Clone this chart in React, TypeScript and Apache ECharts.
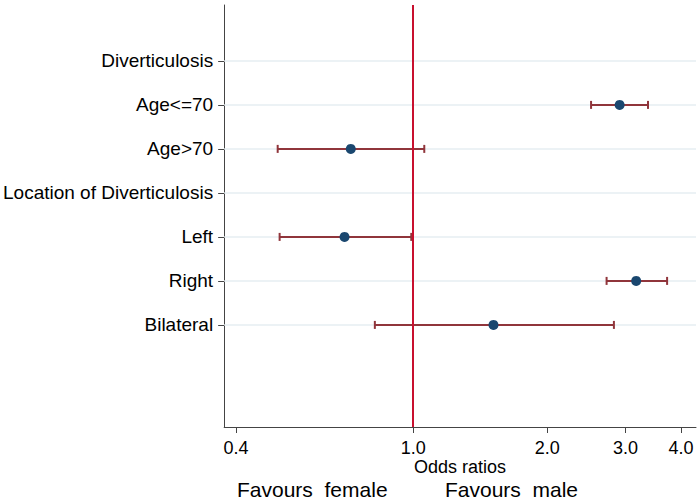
import React, { useEffect, useRef } from "react";
import * as echarts from "echarts";

const categories = [
  "Diverticulosis",
  "Age<=70",
  "Age>70",
  "Location of Diverticulosis",
  "Left",
  "Right",
  "Bilateral",
];
const oddsRatio: (number | null)[] = [null, 2.91, 0.724, null, 0.701, 3.17, 1.515];
const ciLower: (number | null)[] = [null, 2.51, 0.496, null, 0.501, 2.72, 0.82];
const ciUpper: (number | null)[] = [null, 3.37, 1.059, null, 0.99, 3.72, 2.825];
const xTickValues = [0.4, 1.0, 2.0, 3.0, 4.0];
const xMin = 0.376;
const xMax = 4.32;

const FONT = "'Liberation Sans', Arial, sans-serif";

export default function App() {
  const ref = useRef<HTMLDivElement>(null);
  useEffect(() => {
    if (!ref.current) return;
    const chart = echarts.init(ref.current, null, { renderer: "svg" });
    const lg = (v: number) => Math.log10(v);
    const rows = categories.map((_, i) => i);
    const lxMin = lg(xMin);
    const lxMax = lg(xMax);
    const errData: number[][] = [];
    const ptData: number[][] = [];
    categories.forEach((_, i) => {
      const o = oddsRatio[i];
      const l = ciLower[i];
      const u = ciUpper[i];
      if (o != null && l != null && u != null) {
        errData.push([lg(l), lg(u), i]);
        ptData.push([lg(o), i]);
      }
    });
    chart.setOption({
      animation: false,
      backgroundColor: "#fff",
      grid: { left: 224, right: 4, top: 5, bottom: 76, containLabel: false },
      xAxis: {
        type: "value",
        min: lxMin,
        max: lxMax,
        name: "Odds ratios",
        nameLocation: "middle",
        nameGap: 31,
        nameMoveOverlap: false,
        nameTextStyle: { fontFamily: FONT, fontSize: 18, color: "#000" },
        axisLine: { show: true, onZero: false, lineStyle: { color: "#444", width: 1 } },
        axisTick: {
          show: true,
          length: 6,
          customValues: xTickValues.map(lg),
          lineStyle: { color: "#444" },
        },
        axisLabel: {
          customValues: xTickValues.map(lg),
          margin: 12,
          fontFamily: FONT,
          fontSize: 18,
          color: "#000",
          formatter: (v: number) => Math.pow(10, v).toFixed(1),
        },
        splitLine: { show: false },
      },
      yAxis: {
        type: "value",
        inverse: true,
        min: -1.27,
        max: 8.32,
        axisLine: { show: true, onZero: false, lineStyle: { color: "#444", width: 1 } },
        axisTick: {
          show: true,
          length: 6,
          customValues: rows,
          lineStyle: { color: "#444" },
        },
        axisLabel: {
          customValues: rows,
          margin: 11,
          fontFamily: FONT,
          fontSize: 19,
          color: "#000",
          formatter: (v: number) => categories[Math.round(v)] ?? "",
        },
        splitLine: { show: false },
      },
      graphic: [
        {
          type: "text",
          left: 237,
          top: 479,
          style: { text: "Favours  female", font: `21px ${FONT}`, fill: "#000" },
        },
        {
          type: "text",
          left: 445,
          top: 479,
          style: { text: "Favours  male", font: `21px ${FONT}`, fill: "#000" },
        },
      ],
      series: [
        {
          type: "custom",
          z: 1,
          silent: true,
          data: rows.map((r) => [r]),
          encode: { y: 0 },
          renderItem: (params: any, api: any) => {
            const y = api.value(0);
            const a = api.coord([lxMin, y]);
            const b = api.coord([lxMax, y]);
            return {
              type: "line",
              shape: { x1: a[0], y1: a[1], x2: b[0], y2: b[1] },
              style: { stroke: "#e6eef2", lineWidth: 1.5 },
            };
          },
        },
        {
          type: "custom",
          z: 3,
          silent: true,
          data: errData,
          encode: { x: [0, 1], y: 2 },
          renderItem: (params: any, api: any) => {
            const lo = api.coord([api.value(0), api.value(2)]);
            const hi = api.coord([api.value(1), api.value(2)]);
            const h = 4;
            const style = { stroke: "#90353b", lineWidth: 2 };
            return {
              type: "group",
              children: [
                { type: "line", shape: { x1: lo[0], y1: lo[1], x2: hi[0], y2: hi[1] }, style },
                { type: "line", shape: { x1: lo[0], y1: lo[1] - h, x2: lo[0], y2: lo[1] + h }, style },
                { type: "line", shape: { x1: hi[0], y1: hi[1] - h, x2: hi[0], y2: hi[1] + h }, style },
              ],
            };
          },
        },
        {
          type: "scatter",
          z: 5,
          data: ptData,
          symbol: "circle",
          symbolSize: 10,
          itemStyle: { color: "#1a476f", opacity: 1 },
          markLine: {
            silent: true,
            symbol: "none",
            label: { show: false },
            lineStyle: { color: "#c8102e", width: 2, type: "solid", opacity: 1 },
            data: [{ xAxis: 0 }],
          },
        },
      ],
    });
    return () => chart.dispose();
  }, []);
  return (
    <div
      ref={ref}
      style={{ position: "absolute", left: 0, top: 0, width: 700, height: 503 }}
    />
  );
}
